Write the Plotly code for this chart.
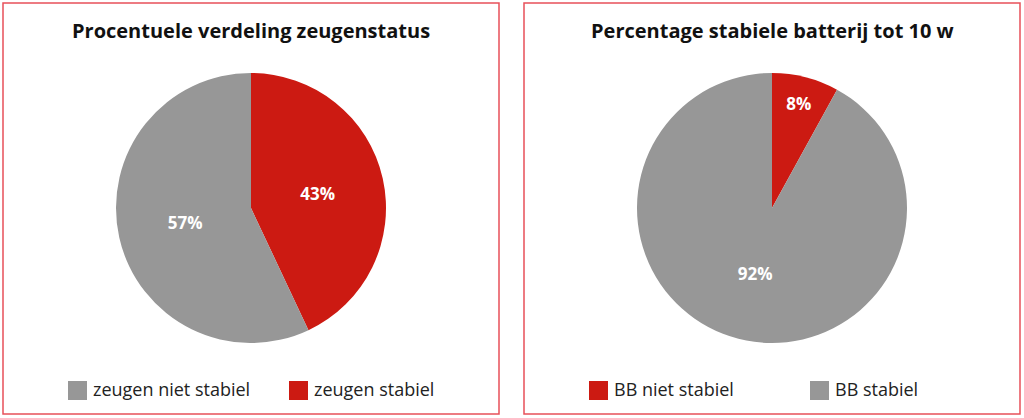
import plotly.graph_objects as go

W, H = 1024, 418

# Data
titles = ["Procentuele verdeling zeugenstatus", "Percentage stabiele batterij tot 10 w"]
labels_left = ["zeugen niet stabiel", "zeugen stabiel"]
values_left = [57, 43]
labels_right = ["BB niet stabiel", "BB stabiel"]
values_right = [8, 92]

GRAY = "#979797"
RED = "#cc1a12"
colors_left = [GRAY, RED]
colors_right = [RED, GRAY]

FONT = "Open Sans"

def px_x(v):
    return v / W

def px_y(v):
    return 1 - v / H

fig = go.Figure()

panels = [
    # left pie drawn clockwise from 12 o'clock in reversed order (red first), legend keeps data order
    dict(labels=labels_left, values=values_left, colors=colors_left, reverse=True,
         box=(3, 499), pie=(116, 386), legend_sq=[68, 289]),
    dict(labels=labels_right, values=values_right, colors=colors_right, reverse=False,
         box=(524, 1020), pie=(637, 907), legend_sq=[589, 810]),
]

shapes = []
annotations = []
for i, p in enumerate(panels):
    labs, vals, cols = list(p["labels"]), list(p["values"]), list(p["colors"])
    if p["reverse"]:
        labs, vals, cols = labs[::-1], vals[::-1], cols[::-1]
    fig.add_trace(go.Pie(
        labels=labs, values=vals,
        marker=dict(colors=cols, line=dict(width=0)),
        sort=False, direction="clockwise", rotation=0,
        texttemplate="%{percent:.0%}",
        textposition="inside", insidetextorientation="horizontal",
        textfont=dict(family=FONT, size=17, color="white", weight="bold"),
        domain=dict(x=[px_x(p["pie"][0]), px_x(p["pie"][1])], y=[px_y(343), px_y(73)]),
        showlegend=False, hoverinfo="label+percent",
    ))
    # panel border
    shapes.append(dict(type="rect", xref="paper", yref="paper",
                       x0=px_x(p["box"][0]), x1=px_x(p["box"][1]),
                       y0=px_y(414), y1=px_y(3),
                       line=dict(color="#e8505a", width=1.5), fillcolor="rgba(0,0,0,0)"))
    # title
    annotations.append(dict(text=f"<b>{titles[i]}</b>", xref="paper", yref="paper",
                            x=px_x((p["box"][0] + p["box"][1]) / 2), y=px_y(30),
                            xanchor="center", yanchor="middle", showarrow=False,
                            font=dict(family=FONT, size=20, color="#111111")))
    # manual legend
    for lab, col, sx in zip(p["labels"], p["colors"], p["legend_sq"]):
        shapes.append(dict(type="rect", xref="paper", yref="paper",
                           x0=px_x(sx), x1=px_x(sx + 19), y0=px_y(400), y1=px_y(381),
                           line=dict(width=0), fillcolor=col))
        annotations.append(dict(text=lab, xref="paper", yref="paper",
                                x=px_x(sx + 23), y=px_y(389), xanchor="left", yanchor="middle",
                                showarrow=False,
                                font=dict(family=FONT, size=18, color="#222222")))

fig.update_layout(
    width=W, height=H, margin=dict(l=0, r=0, t=0, b=0),
    paper_bgcolor="white", plot_bgcolor="white",
    shapes=shapes, annotations=annotations, showlegend=False,
)

fig.write_html("out.html", config={"displayModeBar": False},
               post_script="document.body.style.margin='0';")
